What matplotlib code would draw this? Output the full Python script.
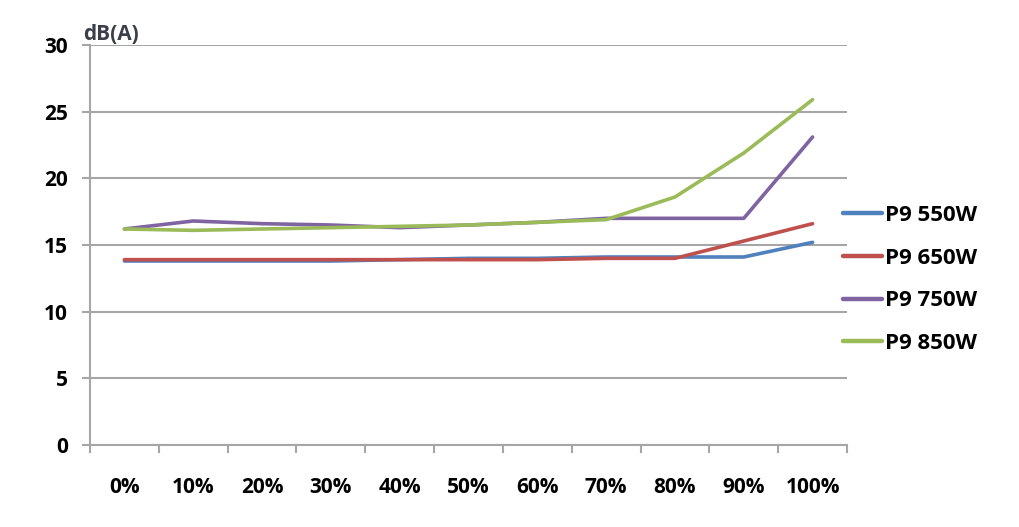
import matplotlib
matplotlib.use("Agg")
import matplotlib.pyplot as plt
import numpy as np

categories = ["0%", "10%", "20%", "30%", "40%", "50%", "60%", "70%", "80%", "90%", "100%"]
p9_550 = [13.8, 13.8, 13.8, 13.8, 13.9, 14.0, 14.0, 14.1, 14.1, 14.1, 15.2]
p9_650 = [13.9, 13.9, 13.9, 13.9, 13.9, 13.9, 13.9, 14.0, 14.0, 15.3, 16.6]
p9_750 = [16.2, 16.8, 16.6, 16.5, 16.3, 16.5, 16.7, 17.0, 17.0, 17.0, 23.1]
p9_850 = [16.2, 16.1, 16.2, 16.3, 16.4, 16.5, 16.7, 16.9, 18.6, 21.9, 25.9]
series_names = ["P9 550W", "P9 650W", "P9 750W", "P9 850W"]
colors = ["#4F81BD", "#C0504D", "#8064A2", "#9BBB59"]
yticks = [0, 5, 10, 15, 20, 25, 30]

plt.rcParams['font.family'] = ['Open Sans', 'DejaVu Sans']
FS = 15
LFS = 16

fig = plt.figure(figsize=(10.2, 5.27), dpi=100)
W, H = 1020, 527
ax = fig.add_axes([90 / W, 1 - 445 / H, (847 - 90) / W, (445 - 45) / H])

x = np.arange(len(categories))
for vals, name, c in zip([p9_550, p9_650, p9_750, p9_850], series_names, colors):
    ax.plot(x, vals, color=c, lw=2.6, label=name, solid_capstyle='round')

ax.set_xlim(-0.5, len(categories) - 0.5)
ax.set_ylim(0, 30)
ax.set_yticks(yticks)
ax.set_yticklabels([str(v) for v in yticks], fontsize=FS, fontweight='bold')
ax.grid(axis='y', color='#A6A6A6', lw=1.5)
ax.set_axisbelow(True)

ax.set_xticks(x)
ax.set_xticklabels(categories, fontsize=FS, fontweight='bold')
ax.set_xticks(np.arange(len(categories) + 1) - 0.5, minor=True)
ax.tick_params(axis='x', which='major', length=0, pad=23)
ax.tick_params(axis='x', which='minor', length=6, width=1.5, color='#A6A6A6', direction='out')
ax.tick_params(axis='y', length=6, width=1.5, color='#A6A6A6', pad=10)

for s in ['top', 'right']:
    ax.spines[s].set_visible(False)
for s in ['left', 'bottom']:
    ax.spines[s].set_color('#A6A6A6')
    ax.spines[s].set_linewidth(1.5)

ax.text(83 / W, 1 - 35 / H, "dB(A)", transform=fig.transFigure, fontsize=FS,
        fontweight='bold', color='#3A3F4A', ha='left', va='center')

leg = ax.legend(loc='upper left', bbox_to_anchor=(834 / W, 1 - 196 / H),
                bbox_transform=fig.transFigure, frameon=False,
                prop={'size': LFS, 'weight': 'bold'}, handlelength=1.75,
                handletextpad=0.15, labelspacing=0.98, borderaxespad=0)
for line in leg.get_lines():
    line.set_linewidth(3.2)

fig.savefig("out.png", dpi=100)
